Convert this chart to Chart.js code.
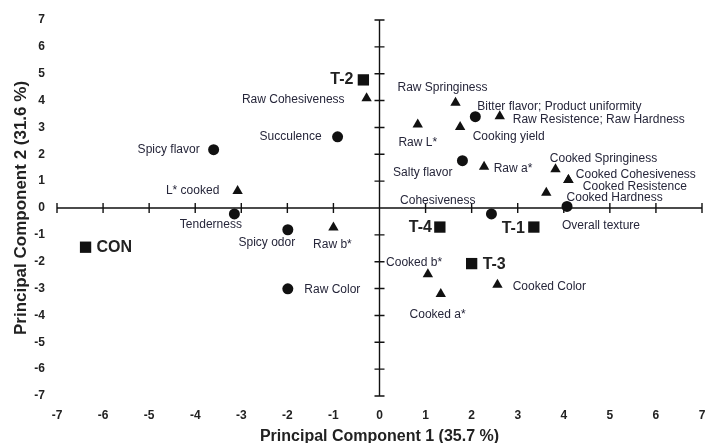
<!DOCTYPE html>
<html>
<head>
<meta charset="utf-8">
<script src="https://cdn.jsdelivr.net/npm/chart.js@4.4.1/dist/chart.umd.min.js"></script>
<style>
  html, body { margin: 0; padding: 0; background: #fff; }
  canvas { display: block; }
</style>
</head>
<body>
<canvas id="pca" width="705" height="443"></canvas>
<script>
// Treatments (squares)
const treatmentNames = ['CON', 'T-1', 'T-2', 'T-3', 'T-4'];
const treatmentPC1 = [-6.38, 3.35, -0.35, 2.00, 1.31];
const treatmentPC2 = [-1.46, -0.71, 4.77, -2.07, -0.71];

// Sensory attributes (circles)
const sensoryNames = ['Spicy flavor', 'Succulence', 'Tenderness', 'Spicy odor', 'Raw Color',
  'Salty flavor', 'Bitter flavor; Product uniformity', 'Cohesiveness', 'Overall texture'];
const sensoryPC1 = [-3.60, -0.91, -3.15, -1.99, -1.99, 1.80, 2.08, 2.43, 4.07];
const sensoryPC2 = [2.17, 2.65, -0.22, -0.81, -3.01, 1.76, 3.40, -0.22, 0.06];

// Instrumental / physicochemical attributes (triangles)
const instrumentalNames = ['Raw Cohesiveness', 'Raw Springiness', 'Raw Resistence; Raw Hardness', 'Raw L*',
  'Cooking yield', 'Raw a*', 'Cooked Springiness', 'Cooked Cohesiveness', 'Cooked Resistence',
  'Cooked Hardness', 'L* cooked', 'Raw b*', 'Cooked b*', 'Cooked a*', 'Cooked Color'];
const instrumentalPC1 = [-0.28, 1.65, 2.61, 0.83, 1.75, 2.27, 3.82, 4.10, 4.10, 3.62, -3.08, -1.00, 1.05, 1.33, 2.56];
const instrumentalPC2 = [4.09, 3.92, 3.42, 3.11, 3.02, 1.54, 1.44, 1.04, 1.04, 0.57, 0.63, -0.73, -2.47, -3.20, -2.86];

// Axis ticks
const axisTicks = [-7, -6, -5, -4, -3, -2, -1, 0, 1, 2, 3, 4, 5, 6, 7];

// Label placement relative to each marker: [dx, dy, align]
const treatmentLabelPlacement = [[11, 0, 'left'], [-9, 2, 'right'], [-10, 0, 'right'], [11, 1, 'left'], [-8, 1, 'right']];
const sensoryLabelPlacement = [[-14, 0, 'right'], [-16, 0, 'right'], [-23.5, 11, 'center'], [-21, 13, 'center'],
  [16.5, 1, 'left'], [-10, 12, 'right'], [2, -10, 'left'], [-16, -13, 'right'], [-5, 19, 'left']];
const instrumentalLabelPlacement = [[-22, 1.6, 'right'], [-13, -15, 'center'], [13, 3.6, 'left'], [0, 18.3, 'center'],
  [12.5, 10, 'left'], [9.6, 2.1, 'left'], [-5.7, -10.6, 'left'], [7.4, -5.3, 'left'], [14.4, 6.7, 'left'],
  [20.3, 5.1, 'left'], [-18.3, -0.3, 'right'], [-1, 17.1, 'center'], [-13.8, -11.6, 'center'], [-3.2, 20.8, 'center'],
  [15.2, 1.9, 'left']];

const FONT = '"Liberation Sans", Arial, Helvetica, sans-serif';
const INK = '#111111';

const toPoints = (xs, ys) => xs.map((v, i) => ({ x: v, y: ys[i] }));

// Axes drawn through the origin, with tick marks crossing the lines
const crossAxes = {
  id: 'crossAxes',
  beforeDatasetsDraw(chart) {
    const { ctx, scales: { x, y } } = chart;
    const x0 = x.getPixelForValue(0);
    const y0 = y.getPixelForValue(0);
    ctx.save();
    ctx.strokeStyle = INK;
    ctx.lineWidth = 1.4;
    ctx.beginPath();
    ctx.moveTo(x.getPixelForValue(axisTicks[0]), y0);
    ctx.lineTo(x.getPixelForValue(axisTicks[axisTicks.length - 1]), y0);
    ctx.moveTo(x0, y.getPixelForValue(axisTicks[axisTicks.length - 1]));
    ctx.lineTo(x0, y.getPixelForValue(axisTicks[0]));
    axisTicks.forEach(v => {
      const px = x.getPixelForValue(v);
      ctx.moveTo(px, y0 - 5);
      ctx.lineTo(px, y0 + 5);
      const py = y.getPixelForValue(v);
      ctx.moveTo(x0 - 5, py);
      ctx.lineTo(x0 + 5, py);
    });
    ctx.stroke();
    ctx.restore();
  }
};

// Text labels next to each marker
const pointLabels = {
  id: 'pointLabels',
  afterDatasetsDraw(chart) {
    const { ctx } = chart;
    ctx.save();
    ctx.textBaseline = 'middle';
    chart.data.datasets.forEach((ds, i) => {
      const meta = chart.getDatasetMeta(i);
      ctx.font = ds.labelFont;
      ctx.fillStyle = ds.labelColor;
      meta.data.forEach((pt, j) => {
        const [dx, dy, align] = ds.labelPlacement[j];
        ctx.textAlign = align;
        ctx.fillText(ds.labelTexts[j], pt.x + dx, pt.y + dy);
      });
    });
    ctx.restore();
  }
};

const axisCommon = {
  type: 'linear',
  min: -7,
  max: 7,
  grid: { display: false, drawTicks: false },
  border: { display: false },
};

new Chart(document.getElementById('pca'), {
  type: 'scatter',
  data: {
    datasets: [
      {
        label: 'Treatments',
        data: toPoints(treatmentPC1, treatmentPC2),
        pointStyle: 'rect',
        pointRadius: 8,
        backgroundColor: INK,
        borderColor: INK,
        borderWidth: 0,
        labelTexts: treatmentNames,
        labelPlacement: treatmentLabelPlacement,
        labelFont: 'bold 16px ' + FONT,
        labelColor: '#222222'
      },
      {
        label: 'Sensory',
        data: toPoints(sensoryPC1, sensoryPC2),
        pointStyle: 'circle',
        pointRadius: 5.5,
        backgroundColor: INK,
        borderColor: INK,
        borderWidth: 0,
        labelTexts: sensoryNames,
        labelPlacement: sensoryLabelPlacement,
        labelFont: '12px ' + FONT,
        labelColor: '#26263a'
      },
      {
        label: 'Instrumental',
        data: toPoints(instrumentalPC1, instrumentalPC2),
        pointStyle: 'triangle',
        pointRadius: 6,
        backgroundColor: INK,
        borderColor: INK,
        borderWidth: 0,
        labelTexts: instrumentalNames,
        labelPlacement: instrumentalLabelPlacement,
        labelFont: '12px ' + FONT,
        labelColor: '#26263a'
      }
    ]
  },
  options: {
    responsive: false,
    animation: false,
    devicePixelRatio: 1,
    layout: { autoPadding: false, padding: { top: 20, right: 3, left: 0, bottom: 0 } },
    plugins: {
      legend: { display: false },
      tooltip: { enabled: false }
    },
    scales: {
      x: {
        ...axisCommon,
        position: 'bottom',
        afterFit(scale) { scale.height = 47; scale.paddingLeft = 0; scale.paddingRight = 0; },
        afterBuildTicks(scale) { scale.ticks = axisTicks.map(v => ({ value: v })); },
        ticks: { color: '#222222', font: { family: FONT, size: 12, weight: 'bold' }, padding: 12, maxRotation: 0, autoSkip: false },
        title: {
          display: true,
          text: 'Principal Component 1 (35.7 %)',
          color: '#222222',
          font: { family: FONT, size: 16, weight: 'bold' },
          padding: { top: 0, bottom: -3 }
        }
      },
      y: {
        ...axisCommon,
        position: 'left',
        afterFit(scale) { scale.width = 57; scale.paddingTop = 0; scale.paddingBottom = 0; },
        afterBuildTicks(scale) { scale.ticks = axisTicks.map(v => ({ value: v })); },
        ticks: { color: '#222222', font: { family: FONT, size: 12, weight: 'bold' }, padding: 12, autoSkip: false },
        title: {
          display: true,
          text: 'Principal Component 2 (31.6 %)',
          color: '#222222',
          font: { family: FONT, size: 17, weight: 'bold' },
          padding: { top: 11, bottom: 0 }
        }
      }
    }
  },
  plugins: [crossAxes, pointLabels]
});
</script>
</body>
</html>
